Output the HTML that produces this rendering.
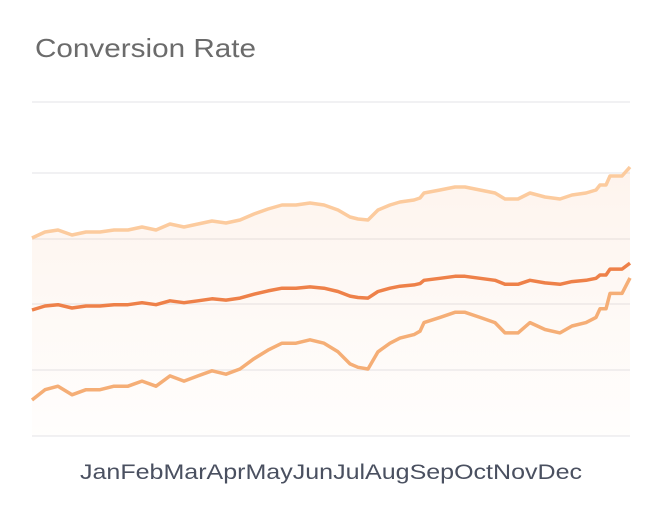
<!DOCTYPE html>
<html><head><meta charset="utf-8"><style>
body{margin:0;background:#fff;width:664px;height:502px;overflow:hidden;font-family:"Liberation Sans",sans-serif}
</style></head><body>
<svg width="664" height="502" xmlns="http://www.w3.org/2000/svg">
<defs><linearGradient id="g" x1="0" y1="0" x2="0" y2="1">
<stop offset="0" stop-color="#f6a36a" stop-opacity="0.12"/>
<stop offset="1" stop-color="#f6a36a" stop-opacity="0.015"/></linearGradient></defs>
<text x="35" y="57" font-size="26" fill="#6b6b6b" textLength="221" lengthAdjust="spacingAndGlyphs">Conversion Rate</text>
<g stroke="#f1f1f3" stroke-width="2">
<line x1="32" x2="630" y1="102" y2="102"/><line x1="32" x2="630" y1="173" y2="173"/>
<line x1="32" x2="630" y1="239" y2="239"/><line x1="32" x2="630" y1="304" y2="304"/>
<line x1="32" x2="630" y1="370" y2="370"/><line x1="32" x2="630" y1="436" y2="436"/>
</g>
<path id="area" fill="url(#g)"/>
<polyline id="lo" fill="none" stroke="#f5ae76" stroke-width="3.5" stroke-linejoin="round"/>
<polyline id="mid" fill="none" stroke="#ee8149" stroke-width="3.5" stroke-linejoin="round"/>
<polyline id="up" fill="none" stroke="#fccb9e" stroke-width="3.5" stroke-linejoin="round"/>
<text x="80" y="479" font-size="21" fill="#4a5060" textLength="502" lengthAdjust="spacingAndGlyphs">JanFebMarAprMayJunJulAugSepOctNovDec</text>
</svg>
<script>
var u=[[32,238],[45,232],[58,230],[72,235],[86,232],[100,232],[114,230],[128,230],[142,227],[156,230],[170,224],[184,227],[198,224],[212,221],[226,223],[240,220],[254,214],[268,209],[282,205],[296,205],[310,203],[324,205],[338,210],[350,217],[358,219],[368,220],[378,210],[390,205],[400,202],[414,200],[420,198],[424,193],[440,190],[455,187],[465,187],[480,190],[495,193],[505,199],[518,199],[530,193],[545,197],[560,199],[572,195],[586,193],[596,190],[600,185],[606,185],[610,176],[622,176],[630,167]];
function s(a){return a.map(p=>p[0]+","+p[1].toFixed(1)).join(" ")}
document.getElementById("up").setAttribute("points",s(u));
document.getElementById("mid").setAttribute("points",s(u.map(p=>[p[0],310-0.66*(238-p[1])])));
document.getElementById("lo").setAttribute("points",s(u.map(p=>[p[0],400-1.72*(238-p[1])])));
document.getElementById("area").setAttribute("d","M"+s(u).replace(/ /g," L")+" L630,436 L32,436 Z");
</script>
</body></html>
